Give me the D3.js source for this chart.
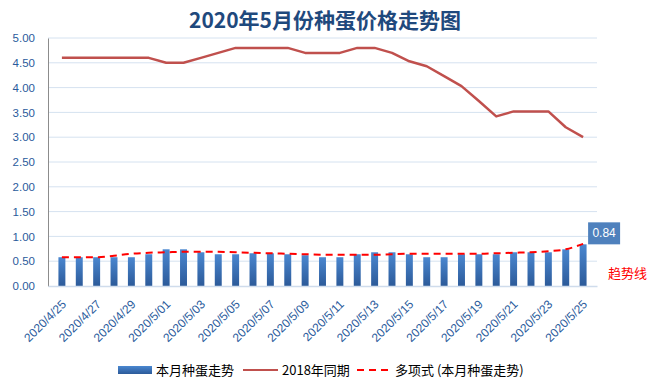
<!DOCTYPE html>
<html>
<head>
<meta charset="utf-8">
<script src="https://cdn.jsdelivr.net/npm/d3@7"></script>
<style>
body { margin: 0; background: #fff; }
</style>
</head>
<body>
<div id="chart"></div>
<script>
// dates 2020/4/25 .. 2020/5/25
var dates = ['2020/4/25','2020/4/26','2020/4/27','2020/4/28','2020/4/29','2020/4/30',
  '2020/5/01','2020/5/02','2020/5/03','2020/5/04','2020/5/05','2020/5/06','2020/5/07',
  '2020/5/08','2020/5/09','2020/5/10','2020/5/11','2020/5/12','2020/5/13','2020/5/14',
  '2020/5/15','2020/5/16','2020/5/17','2020/5/18','2020/5/19','2020/5/20','2020/5/21',
  '2020/5/22','2020/5/23','2020/5/24','2020/5/25'];

var thisMonth = [0.58,0.58,0.58,0.58,0.58,0.64,0.74,0.74,0.68,0.64,0.64,0.66,0.66,
  0.64,0.62,0.58,0.58,0.64,0.68,0.68,0.64,0.58,0.58,0.64,0.64,0.64,0.68,0.68,0.68,0.74,0.84];

var sameTime2018 = [4.6,4.6,4.6,4.6,4.6,4.6,4.5,4.5,4.6,4.7,4.8,4.8,4.8,4.8,4.7,4.7,4.7,
  4.8,4.8,4.7,4.53,4.43,4.23,4.03,3.73,3.42,3.52,3.52,3.52,3.2,3.0];

// polynomial trendline
var trend = [0.58,0.58,0.58,0.61,0.65,0.67,0.68,0.69,0.69,0.69,0.68,0.67,0.66,0.65,0.64,
  0.63,0.63,0.63,0.63,0.64,0.65,0.65,0.65,0.65,0.65,0.66,0.67,0.68,0.70,0.74,0.85];

var yTicks = [0,0.5,1,1.5,2,2.5,3,3.5,4,4.5,5];

var W = 651, H = 389;
var margin = {left: 48, right: 54, top: 38, bottom: 103};
var cjk = '"Noto Sans CJK SC", sans-serif';
var latin = '"Liberation Sans", sans-serif';

var svg = d3.select('#chart').append('svg').attr('width', W).attr('height', H);

var defs = svg.append('defs');
var grad = defs.append('linearGradient').attr('id', 'barGrad')
  .attr('x1', 0).attr('y1', 0).attr('x2', 0).attr('y2', 1);
grad.append('stop').attr('offset', '0%').attr('stop-color', '#4a87d0');
grad.append('stop').attr('offset', '100%').attr('stop-color', '#2c5a99');

var x = d3.scaleBand().domain(dates).range([margin.left, W - margin.right]).padding(0.6);
var y = d3.scaleLinear().domain([0, 5]).range([H - margin.bottom, margin.top]);
var cx = function(i) { return x(dates[i]) + x.bandwidth() / 2; };

// title
svg.append('text').attr('x', 325).attr('y', 28).attr('text-anchor', 'middle')
  .attr('font-family', cjk).attr('font-size', 21).attr('font-weight', 'bold').attr('fill', '#1f497d')
  .text('2020年5月份种蛋价格走势图');

// gridlines
svg.append('g').selectAll('line').data(yTicks.slice(1)).enter().append('line')
  .attr('x1', margin.left).attr('x2', W - margin.right)
  .attr('y1', function(d) { return y(d); }).attr('y2', function(d) { return y(d); })
  .attr('stroke', '#d5e2f0').attr('stroke-width', 1);

// y axis
var yAxis = svg.append('g').attr('transform', 'translate(' + margin.left + ',0)')
  .call(d3.axisLeft(y).tickValues(yTicks).tickFormat(d3.format('.2f')).tickSize(0).tickPadding(13));
yAxis.select('.domain').attr('stroke', '#8c8c8c');
yAxis.selectAll('text').attr('font-size', 11.5).attr('fill', '#2a5b9c').attr('font-family', latin);

// bars
svg.append('g').selectAll('rect').data(thisMonth).enter().append('rect')
  .attr('x', function(d, i) { return x(dates[i]); })
  .attr('width', x.bandwidth())
  .attr('y', function(d) { return y(d); })
  .attr('height', function(d) { return y(0) - y(d); })
  .attr('fill', 'url(#barGrad)');

// x axis
var xAxis = svg.append('g').attr('transform', 'translate(0,' + y(0) + ')')
  .call(d3.axisBottom(x).tickValues(dates.filter(function(d, i) { return i % 2 === 0; }))
    .tickSize(0));
xAxis.select('.domain').attr('stroke', '#cfdcec').attr('stroke-width', 1.5);
xAxis.selectAll('text').attr('font-size', 12).attr('fill', '#2a5b9c').attr('font-family', latin)
  .attr('text-anchor', 'end').attr('x', 0).attr('y', 0).attr('dy', '0.35em')
  .attr('transform', 'translate(2,16) rotate(-45)');

// 2018 line
var line = d3.line().x(function(d, i) { return cx(i); }).y(function(d) { return y(d); });
svg.append('path').datum(sameTime2018).attr('d', line)
  .attr('fill', 'none').attr('stroke', '#c0504d').attr('stroke-width', 2.5)
  .attr('stroke-linejoin', 'round');

// trend line
svg.append('path').datum(trend).attr('d', d3.line().curve(d3.curveMonotoneX)
    .x(function(d, i) { return cx(i); }).y(function(d) { return y(d); }))
  .attr('fill', 'none').attr('stroke', '#ff0000').attr('stroke-width', 2)
  .attr('stroke-dasharray', '7,5');

// data label for last bar
var last = thisMonth.length - 1;
var lbx = cx(last) + 5, lby = y(thisMonth[last]) - 22;
svg.append('rect').attr('x', lbx).attr('y', lby).attr('width', 32).attr('height', 22)
  .attr('fill', '#4f81bd');
svg.append('text').attr('x', lbx + 16).attr('y', lby + 15).attr('text-anchor', 'middle')
  .attr('font-size', 12).attr('fill', '#fff').attr('font-family', latin)
  .text(d3.format('.2f')(thisMonth[last]));

svg.append('text').attr('x', 608).attr('y', 278).attr('font-size', 13)
  .attr('font-family', cjk).attr('fill', '#ff0000').text('趋势线');

// legend
var lg = svg.append('g').attr('font-family', cjk).attr('font-size', 13).attr('fill', '#000');
lg.append('rect').attr('x', 118).attr('y', 366).attr('width', 34).attr('height', 8).attr('fill', 'url(#barGrad)');
lg.append('text').attr('x', 156).attr('y', 375).text('本月种蛋走势');
lg.append('line').attr('x1', 243).attr('x2', 278).attr('y1', 370).attr('y2', 370)
  .attr('stroke', '#c0504d').attr('stroke-width', 2);
lg.append('text').attr('x', 282).attr('y', 375).text('2018年同期');
lg.append('line').attr('x1', 357).attr('x2', 392).attr('y1', 370).attr('y2', 370)
  .attr('stroke', '#ff0000').attr('stroke-width', 2).attr('stroke-dasharray', '7,5');
lg.append('text').attr('x', 395).attr('y', 375).text('多项式 (本月种蛋走势)');
</script>
</body>
</html>
